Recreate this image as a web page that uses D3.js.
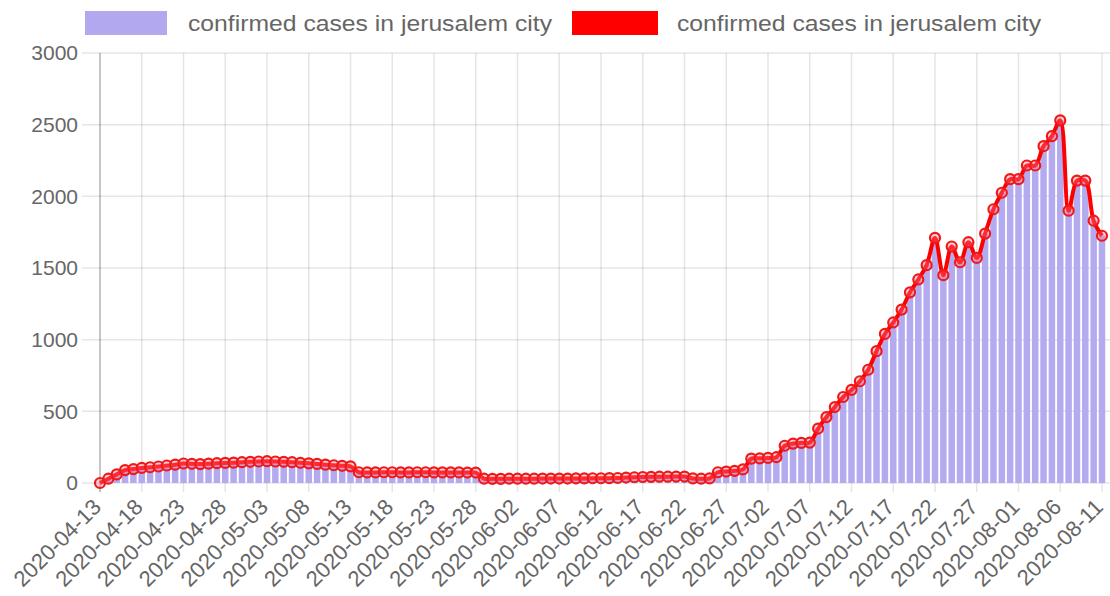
<!DOCTYPE html>
<html>
<head>
<meta charset="utf-8">
<script src="https://cdn.jsdelivr.net/npm/d3@7"></script>
<style>
  body { margin: 0; background: #fff; }
  text { font-family: "Liberation Sans", Arial, sans-serif; fill: #666; }
</style>
</head>
<body>
<script>
// series label, shown twice in the legend (bar + line)
var seriesName = "confirmed cases in jerusalem city";

// one value per day, 2020-04-13 .. 2020-08-11
var cases = [
  0, 30, 60, 90, 97, 105, 110, 115, 122, 128,
  136, 134, 132, 135, 138, 140, 142, 145, 148, 150,
  152, 150, 148, 145, 141, 137, 133, 128, 124, 120,
  116,
  75, 74, 74, 75, 75, 74, 74, 75, 75, 74, 74, 74, 74, 73, 73,
  30, 29, 29, 30, 30, 30, 30, 31, 31, 31, 31, 32, 32, 33, 33, 34, 35,
  38, 40, 42, 43, 44, 44, 45, 45,
  32, 30, 32,
  75, 80, 85, 95,
  170, 172, 175, 180,
  260, 275, 280, 282,
  380, 460, 530, 600, 650, 710, 790, 920, 1040, 1120,
  1210, 1330, 1420, 1520, 1710, 1450, 1650, 1540, 1680, 1570,
  1740, 1910, 2025, 2120, 2120, 2215, 2215, 2350, 2420, 2530,
  1900, 2110, 2110, 1830, 1725
];

// the labels shown on the x axis (every 5th day)
var tickLabels = [
  "2020-04-13", "2020-04-18", "2020-04-23", "2020-04-28", "2020-05-03",
  "2020-05-08", "2020-05-13", "2020-05-18", "2020-05-23", "2020-05-28",
  "2020-06-02", "2020-06-07", "2020-06-12", "2020-06-17", "2020-06-22",
  "2020-06-27", "2020-07-02", "2020-07-07", "2020-07-12", "2020-07-17",
  "2020-07-22", "2020-07-27", "2020-08-01", "2020-08-06", "2020-08-11"
];

var yTicks = [0, 500, 1000, 1500, 2000, 2500, 3000];

// day categories
var fmt = d3.timeFormat("%Y-%m-%d");
var days = d3.timeDay.range(new Date(2020, 3, 13), new Date(2020, 7, 12)).map(fmt);

var width = 1110, height = 596;
var margin = {top: 53, right: 8, bottom: 113, left: 100};

var svg = d3.select("body").append("svg")
    .attr("width", width)
    .attr("height", height);

var x = d3.scalePoint()
    .domain(days)
    .range([margin.left, width - margin.right]);

var y = d3.scaleLinear()
    .domain([0, 3000])
    .range([height - margin.bottom, margin.top]);

var step = x.step();
var barW = step * 0.78;
var fontSize = 21;

// horizontal grid
svg.append("g")
    .selectAll("line")
    .data(yTicks)
    .enter().append("line")
    .attr("x1", margin.left - 18)
    .attr("x2", width)
    .attr("y1", function (d) { return y(d); })
    .attr("y2", function (d) { return y(d); })
    .attr("stroke", "rgba(0,0,0,0.1)")
    .attr("stroke-width", 1.5);

// vertical grid at the labelled days
svg.append("g")
    .selectAll("line")
    .data(tickLabels)
    .enter().append("line")
    .attr("x1", function (d) { return x(d); })
    .attr("x2", function (d) { return x(d); })
    .attr("y1", margin.top)
    .attr("y2", height - margin.bottom + 9)
    .attr("stroke", function (d, i) { return i === 0 ? "rgba(0,0,0,0.3)" : "rgba(0,0,0,0.1)"; })
    .attr("stroke-width", 1.5);

// y labels
svg.append("g")
    .selectAll("text")
    .data(yTicks)
    .enter().append("text")
    .attr("x", margin.left - 22)
    .attr("y", function (d) { return y(d); })
    .attr("dy", "0.35em")
    .attr("text-anchor", "end")
    .style("font-size", fontSize + "px")
    .text(function (d) { return d; });

// x labels, rotated
svg.append("g")
    .selectAll("text")
    .data(tickLabels)
    .enter().append("text")
    .attr("transform", function (d) {
        return "translate(" + (x(d) - 3) + "," + (height - margin.bottom + 20) + ") rotate(-45)";
    })
    .attr("text-anchor", "end")
    .attr("dy", "0.35em")
    .style("font-size", "22px")
    .text(function (d) { return d; });

// bars
var plot = svg.append("g");
plot.append("defs").append("clipPath").attr("id", "clip")
    .append("rect")
    .attr("x", margin.left).attr("y", 0)
    .attr("width", width - margin.left).attr("height", height);

plot.append("g")
    .attr("clip-path", "url(#clip)")
    .selectAll("rect")
    .data(cases)
    .enter().append("rect")
    .attr("x", function (d, i) { return x(days[i]) - barW / 2; })
    .attr("y", function (d) { return y(d); })
    .attr("width", barW)
    .attr("height", function (d) { return y(0) - y(d); })
    .attr("fill", "#b4aaef");

// line
var line = d3.line()
    .x(function (d, i) { return x(days[i]); })
    .y(function (d) { return y(d); })
    .curve(d3.curveCatmullRom.alpha(0.5));

plot.append("path")
    .datum(cases)
    .attr("d", line)
    .attr("fill", "none")
    .attr("stroke", "#ff0000")
    .attr("stroke-width", 4);

plot.append("g")
    .selectAll("circle")
    .data(cases)
    .enter().append("circle")
    .attr("cx", function (d, i) { return x(days[i]); })
    .attr("cy", function (d) { return y(d); })
    .attr("r", 5)
    .attr("fill", "rgba(255,120,140,0.35)")
    .attr("stroke", "#f01818")
    .attr("stroke-width", 2.2);

// legend
var legend = svg.append("g");
var items = [
    {x: 85, w: 82, tx: 188, fill: "#b2a8f0"},
    {x: 572, w: 86, tx: 677, fill: "#ff0000"}
];
items.forEach(function (it) {
    legend.append("rect")
        .attr("x", it.x).attr("y", 11)
        .attr("width", it.w).attr("height", 24)
        .attr("fill", it.fill);
    legend.append("text")
        .attr("x", it.tx).attr("y", 23)
        .attr("dy", "0.35em")
        .attr("textLength", 364)
        .attr("lengthAdjust", "spacingAndGlyphs")
        .style("font-size", "22px")
        .text(seriesName);
});
</script>
</body>
</html>
